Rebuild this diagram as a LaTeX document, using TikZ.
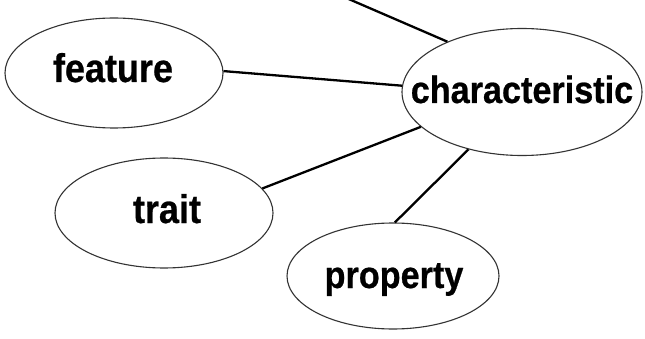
\documentclass[tikz,border=0pt]{standalone}
\usepackage{fontspec}
\newfontfamily\labfont{Liberation Sans}[FakeStretch=0.9,FakeBold=0.6]
\usetikzlibrary{shapes.geometric}
\tikzset{
  bubble/.style={ellipse, draw=black!80, line width=1.1pt, inner sep=0pt},
  word/.style={anchor=base, inner sep=0pt, font=\labfont\bfseries\fontsize{38}{40}\selectfont},
  bigword/.style={word, font=\labfont\bfseries\fontsize{40}{42}\selectfont},
  link/.style={draw=black, line width=2.3pt}
}
\begin{document}
\begin{tikzpicture}[x=1pt,y=-1pt]
\useasboundingbox (0,0) rectangle (645,339);
\fill[white] (0,0) rectangle (645,339);
\node[bubble, minimum width=218pt, minimum height=110pt] (feature) at (114,73) {};
\node[bubble, minimum width=240pt, minimum height=127pt] (char) at (522,92) {};
\node[bubble, minimum width=218pt, minimum height=110pt] (trait) at (164,213) {};
\node[bubble, minimum width=212pt, minimum height=106pt] (property) at (393,276) {};
\node[bigword] (featureT) at (113,82) {feature};
\node[word] (charT) at (522,103) {characteristic};
\node[bigword] (traitT) at (167,223) {trait};
\node[word] (propertyT) at (394,288) {property};
\coordinate (topend) at (344,-3);
\draw[link] (topend) -- (char.146);
\draw[link] (feature.1) -- (char.177);
\draw[link] (trait.14) -- (char.199);
\draw[link] (property.88) -- (char.227);
\end{tikzpicture}
\end{document}
